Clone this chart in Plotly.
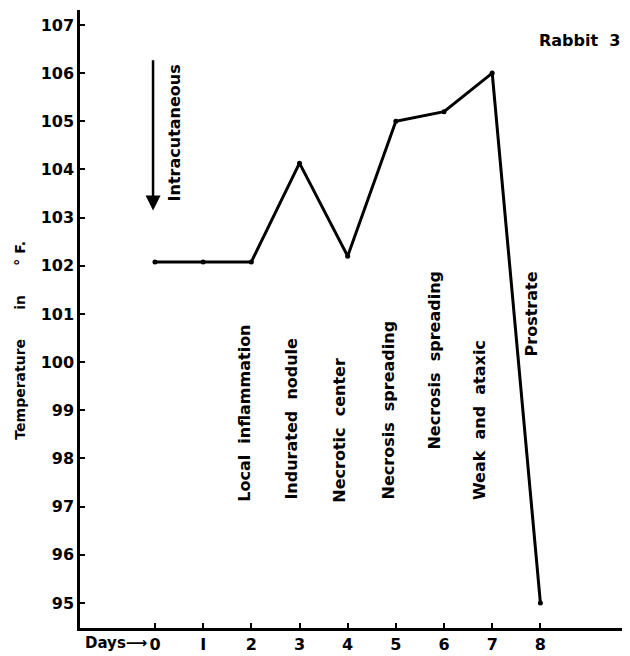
import plotly.graph_objects as go

days = [0, 1, 2, 3, 4, 5, 6, 7, 8]
temps = [102.08, 102.08, 102.08, 104.13, 102.2, 105.0, 105.2, 106.0, 95.0]
y_ticks = [95, 96, 97, 98, 99, 100, 101, 102, 103, 104, 105, 106, 107]
x_ticks = [0, 1, 2, 3, 4, 5, 6, 7, 8]
x_tick_text = ["0", "I", "2", "3", "4", "5", "6", "7", "8"]
events = ["Local\u00a0\u00a0inflammation", "Indurated\u00a0\u00a0nodule", "Necrotic\u00a0\u00a0center",
          "Necrosis\u00a0\u00a0spreading", "Necrosis\u00a0\u00a0spreading", "Weak\u00a0\u00a0and\u00a0\u00a0ataxic"]
event_x = [1.87, 2.84, 3.84, 4.84, 5.81, 6.75]
event_bottom = [97.05, 97.1, 97.05, 97.1, 98.15, 97.1]

FONT = "DejaVu Sans"
NB = "\u00a0"

fig = go.Figure()
fig.add_trace(go.Scatter(x=days, y=temps, mode="lines+markers",
                         line=dict(color="black", width=3),
                         marker=dict(color="black", size=5),
                         showlegend=False, hoverinfo="skip"))

bold = lambda s: dict(family=FONT, size=s, color="black", weight="bold")
ann = []
for t, x, yb in zip(events, event_x, event_bottom):
    ann.append(dict(x=x, y=yb, xref="x", yref="y", text=t, textangle=-90,
                    showarrow=False, xanchor="center", yanchor="bottom", font=bold(16)))
ann.append(dict(x=7.82, y=100.08, xref="x", yref="y", text="Prostrate", textangle=-90,
                showarrow=False, xanchor="center", yanchor="bottom", font=bold(16)))
ann.append(dict(x=0.41, y=103.3, xref="x", yref="y", text="Intracutaneous", textangle=-90,
                showarrow=False, xanchor="center", yanchor="bottom", font=bold(16)))
# arrow
ann.append(dict(x=-0.04, y=103.15, ax=-0.04, ay=106.3, xref="x", yref="y", axref="x", ayref="y",
                text="", showarrow=True, arrowhead=2, arrowsize=1.2, arrowwidth=2.5, arrowcolor="black"))
ann.append(dict(x=1.0, y=0.951, xref="paper", yref="paper", text="Rabbit" + NB * 2 + "3",
                showarrow=False, xanchor="right", yanchor="middle", xshift=-8, font=bold(16)))
ann.append(dict(x=-0.12, y=0, xref="x", yref="paper", text="Days\u27f6",
                showarrow=False, xanchor="right", yanchor="top", yshift=-4, font=bold(15)))
ann.append(dict(x=0, y=0.465, xref="paper", yref="paper",
                text="Temperature" + NB * 6 + "in" + NB * 6 + "\u00b0" + NB + "F.",
                textangle=-90, showarrow=False, xanchor="center", yanchor="middle",
                xshift=-60, font=bold(14)))

fig.update_layout(
    width=622, height=648,
    margin=dict(l=72, r=0, t=2, b=28),
    plot_bgcolor="white", paper_bgcolor="white",
    annotations=ann,
    xaxis=dict(range=[-1.556, 9.86], tickmode="array", tickvals=x_ticks, ticktext=x_tick_text,
               showline=True, linecolor="black", linewidth=2.5, ticks="inside", ticklen=5,
               tickwidth=2, tickcolor="black", showgrid=False, zeroline=False,
               tickfont=bold(16)),
    yaxis=dict(range=[94.48, 107.31], tickmode="array", tickvals=y_ticks,
               showline=True, linecolor="black", linewidth=2.5, ticks="inside", ticklen=5,
               tickwidth=2, tickcolor="black", showgrid=False, zeroline=False,
               tickfont=bold(16)),
)
fig.write_html("out.html")
